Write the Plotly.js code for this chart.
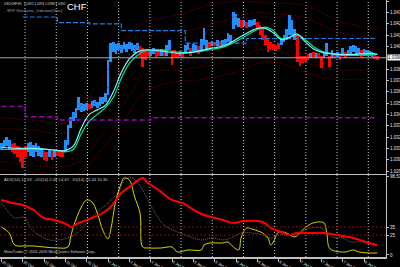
<!DOCTYPE html>
<html><head><meta charset="utf-8">
<script src="https://cdn.plot.ly/plotly-3.0.1.min.js"></script>
<style>html,body{margin:0;padding:0;background:#000;}#chart{width:400px;height:267px;}</style>
</head><body><div id="chart"></div>
<script>
// ---- price bars (USDCHF, H1) ----
const hi = [1.0315,1.0317,1.0320,1.0317,1.0314,1.0315,1.0312,1.0311,1.0309,1.0312,
1.0315,1.0316,1.0313,1.0315,1.0312,1.0310,1.0308,1.0307,1.0309,1.0308,
1.0309,1.0309,1.0308,1.0309,1.0317,1.0331,1.0338,1.0342,1.0346,1.0355,
1.0350,1.0349,1.0350,1.0349,1.0352,1.0353,1.0351,1.0355,1.0355,1.0359,
1.0388,1.0403,1.0404,1.0402,1.0403,1.0401,1.0404,1.0402,1.0404,1.0403,
1.0401,1.0403,1.0400,1.0399,1.0397,1.0398,1.0397,1.0399,1.0397,1.0396,
1.0398,1.0397,1.0401,1.0406,1.0397,1.0397,1.0395,1.0396,1.0394,1.0401,
1.0403,1.0399,1.0402,1.0401,1.0400,1.0407,1.0416,1.0406,1.0404,1.0405,
1.0404,1.0406,1.0405,1.0406,1.0407,1.0412,1.0410,1.0430,1.0429,1.0425,
1.0423,1.0423,1.0422,1.0423,1.0423,1.0424,1.0422,1.0419,1.0416,1.0410,
1.0407,1.0404,1.0402,1.0401,1.0403,1.0407,1.0410,1.0415,1.0428,1.0423,
1.0415,1.0410,1.0392,1.0392,1.0392,1.0393,1.0394,1.0395,1.0394,1.0394,
1.0392,1.0394,1.0403,1.0392,1.0397,1.0394,1.0395,1.0394,1.0399,1.0395,
1.0397,1.0400,1.0401,1.0400,1.0399,1.0397,1.0398,1.0397,1.0396,1.0395,
1.0393,1.0392];
const lo = [1.0309,1.0310,1.0312,1.0309,1.0307,1.0305,1.0302,1.0298,1.0293,1.0302,
1.0307,1.0303,1.0302,1.0307,1.0303,1.0302,1.0300,1.0299,1.0302,1.0300,
1.0302,1.0303,1.0302,1.0302,1.0307,1.0313,1.0328,1.0334,1.0337,1.0344,
1.0342,1.0343,1.0344,1.0345,1.0346,1.0347,1.0346,1.0347,1.0349,1.0351,
1.0357,1.0386,1.0395,1.0393,1.0397,1.0394,1.0398,1.0395,1.0398,1.0396,
1.0394,1.0397,1.0391,1.0382,1.0388,1.0392,1.0392,1.0393,1.0391,1.0392,
1.0392,1.0392,1.0392,1.0397,1.0384,1.0391,1.0390,1.0392,1.0390,1.0394,
1.0397,1.0392,1.0396,1.0395,1.0393,1.0395,1.0401,1.0397,1.0399,1.0400,
1.0400,1.0400,1.0400,1.0400,1.0401,1.0404,1.0403,1.0415,1.0419,1.0417,
1.0416,1.0418,1.0416,1.0417,1.0418,1.0419,1.0415,1.0410,1.0406,1.0401,
1.0395,1.0397,1.0397,1.0396,1.0398,1.0401,1.0404,1.0406,1.0410,1.0410,
1.0406,1.0386,1.0383,1.0385,1.0386,1.0388,1.0390,1.0391,1.0390,1.0390,
1.0381,1.0390,1.0392,1.0382,1.0390,1.0390,1.0391,1.0388,1.0392,1.0390,
1.0392,1.0393,1.0395,1.0392,1.0393,1.0391,1.0392,1.0392,1.0392,1.0391,
1.0389,1.0388];
// u = up-trend bar (blue), d = down-trend bar (red)
const trend = ("uuuu"+"dddddd"+"uuuuuu"+"ddudu"+"ddd"+"uuuuuuuuu"+"d"+"uuuuuuuuuuuuuuuuuu"+"dddd"+"uu"+"dd"+"u"+"d"+"uu"+"ddd"+"u"+"d"+"uu"+"d"+"uu"+"d"+"uuu"+"d"+"u"+"d"+"u"+"d"+"uuuuuuu"+"d"+"u"+"d"+"uuu"+"ddddddddd"+"uuuuuu"+"ddddd"+"ududd"+"uu"+"d"+"u"+"d"+"u"+"d"+"u"+"d"+"uuuuu"+"d"+"uuuu"+"dd").split("");
const lastPrice = 1.0390;
const headerQuote = "USDCHF,H1  1.0392 1.0393 1.0388 1.0390";

// ---- moving averages ----
const maX = [0,6,12,18,24,27,30,33,36,39,42,45,48,51,54,60,66,72,78,84,90,96,99,102,105,108,111,114,117,120,126,132,138,141];
const maFast = [1.0311,1.0310,1.0310,1.0309,1.0308,1.0312,1.0328,1.0340,1.0344,1.0348,1.0360,1.0377,1.0389,1.0395,1.0397,1.0396,1.0394,1.0395,1.0398,1.0401,1.0409,1.0416,1.0416,1.0412,1.0406,1.0408,1.0411,1.0404,1.0398,1.0395,1.0393,1.0393,1.0394,1.0393];
const maSlow = [1.0309,1.0309,1.0309,1.0309,1.0307,1.0309,1.0323,1.0334,1.0340,1.0346,1.0355,1.0372,1.0385,1.0392,1.0396,1.0397,1.0395,1.0395,1.0397,1.0400,1.0407,1.0415,1.0417,1.0414,1.0407,1.0408,1.0410,1.0406,1.0400,1.0396,1.0393,1.0392,1.0393,1.0393];

// ---- envelope bands ----
const bandX = [0,12,24,30,36,42,48,54,60,66,72,78,84,90,96,102,108,114,120,126,132,138,141];
const bandUpOuter = [1.0337,1.0335,1.0333,1.0348,1.0366,1.0388,1.0410,1.0422,1.0425,1.0428,1.0432,1.0437,1.0439,1.0440,1.0439,1.0438,1.0438,1.0436,1.0430,1.0423,1.0419,1.0416,1.0416];
const bandUpInner = [1.0328,1.0326,1.0324,1.0337,1.0353,1.0370,1.0392,1.0407,1.0412,1.0413,1.0415,1.0419,1.0423,1.0428,1.0430,1.0429,1.0428,1.0425,1.0419,1.0413,1.0410,1.0408,1.0408];
const bandLoInner = [1.0298,1.0295,1.0294,1.0300,1.0317,1.0335,1.0357,1.0375,1.0379,1.0379,1.0381,1.0383,1.0386,1.0390,1.0397,1.0397,1.0392,1.0386,1.0381,1.0379,1.0379,1.0379,1.0378];
const bandLoOuter = [1.0291,1.0289,1.0287,1.0289,1.0304,1.0322,1.0342,1.0360,1.0366,1.0369,1.0370,1.0372,1.0375,1.0379,1.0385,1.0386,1.0383,1.0377,1.0373,1.0371,1.0371,1.0371,1.0370];

// ---- MTF step levels ----
const mtfX = [8,21,33,45,69,92,141];
const mtfBlue = [1.0426,1.0421,1.0420,1.0414,1.0403,1.0407,1.0407];
const pivX = [0,9,21,56,141];
const pivPurple = [1.0347,1.0338,1.0335,1.0337,1.0337];

// ---- lower indicator window ----
const redX = [0,4,8,12,16,20,25,26,29,34,38,41,45,49,53,55,59,64,68,71,75,83,87,91,98,101,105,108,111,116,121,128,132,138,141];
const redLine = [68.8,65,62.5,56.3,46.3,43.8,37.5,35,40,46.3,52.5,60,77.5,87.5,96.3,90,81.3,68.8,65,58.8,51.3,43.8,40,42.5,41.3,33.8,28.8,25,27.5,27.5,27.5,23.8,21.3,15,12.5];
const yellowX = [0,3,5,9,12,16,21,25,26,27,30,32,34,36,38,40,41,43,45,46,48,50,52,53,55,60,64,66,70,75,76,78,83,85,87,89,90,92,94,98,100,101,102,104,107,110,113,116,119,121,122,123,125,129,132,134,138,141];
const yellowLine = [35,27.5,12.5,11.3,11.3,10,8.8,10,22.5,35,60,68.8,66.3,52.5,31.3,20,31.3,68.8,90,96.3,93.8,72.5,52.5,10,8.8,8.8,10,3.8,6.3,6.3,12.5,15,15,16.3,10,6.3,22.5,33.8,32.5,27.5,21.3,12.5,16.3,28.8,27.5,22.5,31.3,38.8,41.3,40,28.8,8.8,5,3.8,6.3,3.8,2.5,2.5];
const greyX = [0,3,5,8,9,11,14,18,21,25,29,33,36,40,44,46,49,51,54,57,61,66,71,75,79,83,86,90,94,98,101,104,108,111,116,120,124,128,131,135,139,141];
const greyLine = [65,52.5,46.3,47.5,46.3,33.8,25,18.8,18.8,21.3,28.8,43.8,53.8,65,78.8,93.8,96.3,91.3,75,56.3,37.5,28.8,22.5,18.8,21.3,18.8,21.3,27.5,27.5,25,21.3,25,25,25,33.8,33.8,22.5,21.3,16.3,16.3,12.5,12.5];
const levels = [35, 25];
const indHeader = "ADX(14) 12.53  +DI(14) 2.49 14.67  -DI(14) 12.44 15.30";

const timeLabels = ["30 Dec 2009","30 Dec 17:00","31 Dec 01:00","31 Dec 09:00","31 Dec 17:00","4 Jan 01:00","4 Jan 09:00","4 Jan 17:00","5 Jan 01:00","5 Jan 09:00","5 Jan 17:00","6 Jan 01:00","6 Jan 09:00","6 Jan 17:00","7 Jan 01:00","7 Jan 09:00","7 Jan 17:00","8 Jan 01:00"];

// ---- build ----
const idx = hi.map((_, i) => i);
const FONT = "Liberation Sans, Arial, sans-serif";
const traces = [];
const band = (y) => ({type:'scatter', mode:'lines', x:bandX, y:y, xaxis:'x', yaxis:'y',
  line:{color:'#8b0000', width:1, dash:'1px,2px', shape:'spline'}});
traces.push(band(bandUpOuter), band(bandUpInner), band(bandLoInner), band(bandLoOuter));
traces.push({type:'scatter', mode:'lines', x:pivX, y:pivPurple, xaxis:'x', yaxis:'y',
  line:{color:'#a000b4', width:1.5, dash:'5px,3px', shape:'hv'}});
traces.push({type:'scatter', mode:'lines', x:mtfX, y:mtfBlue, xaxis:'x', yaxis:'y',
  line:{color:'#1e7fe0', width:1.2, dash:'5px,2px', shape:'hv'}});
traces.push({type:'bar', x:idx, base:lo, y:hi.map((h, i) => h - lo[i]), xaxis:'x', yaxis:'y', width:1,
  marker:{color:trend.map(t => t === 'u' ? '#1e8fff' : '#ff0000'), line:{width:0}}});
traces.push({type:'scatter', mode:'lines', x:maX, y:maSlow, xaxis:'x', yaxis:'y',
  line:{color:'#00e08a', width:1.2, shape:'spline'}});
traces.push({type:'scatter', mode:'lines', x:maX, y:maFast, xaxis:'x', yaxis:'y',
  line:{color:'#7ff5ff', width:1.2, shape:'spline'}});
traces.push({type:'scatter', mode:'lines', x:greyX, y:greyLine, xaxis:'x2', yaxis:'y2',
  line:{color:'#707070', width:1, dash:'1px,1px', shape:'spline'}});
traces.push({type:'scatter', mode:'lines', x:yellowX, y:yellowLine, xaxis:'x2', yaxis:'y2',
  line:{color:'#d8d800', width:1, shape:'spline'}});
traces.push({type:'scatter', mode:'lines', x:redX, y:redLine, xaxis:'x2', yaxis:'y2',
  line:{color:'#ff0000', width:2, shape:'spline'}});

// price ticks every 10 pips, the current price gets the white box instead
const priceTicks = [];
for (let p = 10290; p <= 10440; p += 10) if (p !== Math.round(lastPrice * 10000)) priceTicks.push(p / 10000);

const xRange = [-0.5, 144.25];
const GRID0 = 8.9, GRIDSTEP = 11.7;   // vertical chart grid (every ~12 bars)
const shapes = [];
for (let g = GRID0; g < xRange[1]; g += GRIDSTEP) {
  ['y domain', 'y2 domain'].forEach(r => shapes.push({type:'line', layer:'below', xref:'x', x0:g, x1:g,
    yref:r, y0:0, y1:1, line:{color:'#cfcfcf', width:1, dash:'1px,2px'}}));
}
shapes.push({type:'line', xref:'paper', x0:0, x1:1, yref:'y', y0:lastPrice, y1:lastPrice, line:{color:'#a8a8a8', width:1}});
levels.forEach(v => shapes.push({type:'line', xref:'paper', x0:0, x1:1, yref:'y2', y0:v, y1:v,
  line:{color:'#9b0000', width:1, dash:'2px,2px'}}));

const layout = {
  width:400, height:267, paper_bgcolor:'#000', plot_bgcolor:'#000',
  margin:{l:0, r:14, t:0, b:10}, showlegend:false, bargap:0,
  font:{family:FONT, color:'#e0e0e0', size:4.5},
  xaxis:{domain:[0,1], anchor:'y', range:xRange, showgrid:false, ticks:'', showticklabels:false,
    zeroline:false, showline:true, linecolor:'#c0c0c0', linewidth:1.5},
  yaxis:{domain:[0.323,1], anchor:'x', side:'right', range:[1.02874,1.0441], tickmode:'array',
    tickvals:priceTicks, tickformat:'.4f', ticks:'outside', ticklen:2, tickcolor:'#c0c0c0',
    showgrid:false, zeroline:false, showline:true, linecolor:'#c0c0c0', linewidth:1,
    tickfont:{size:4.5, color:'#e8e8e8'}},
  xaxis2:{domain:[0,1], anchor:'y2', matches:'x', range:xRange, tickmode:'array',
    tickvals:timeLabels.map((_, k) => k * 8), ticktext:timeLabels, ticklabelposition:'outside right',
    ticks:'outside', ticklen:3, tickcolor:'#c0c0c0', showgrid:false, zeroline:false,
    showline:true, mirror:true, linecolor:'#c0c0c0', linewidth:1.5,
    tickfont:{size:3.8, color:'#e8e8e8'}},
  yaxis2:{domain:[0,0.319], anchor:'x2', side:'right', range:[-2.5,100], tickmode:'array',
    tickvals:[0,25,35,98.5], ticktext:['0','25','35','98.5123'], ticks:'outside', ticklen:2,
    tickcolor:'#c0c0c0', showgrid:false, zeroline:false, showline:true, linecolor:'#c0c0c0',
    tickfont:{size:4.5, color:'#e8e8e8'}},
  shapes:shapes,
  annotations:[
    {xref:'paper', yref:'paper', x:0.005, y:0.986, xanchor:'left', yanchor:'middle', showarrow:false,
      text:headerQuote, font:{size:3.2, color:'#d8d8d8'}},
    {xref:'paper', yref:'paper', x:0.005, y:0.959, xanchor:'left', yanchor:'middle', showarrow:false,
      text:"<span style='color:#1e7fe0'>\u2013 </span>MTF Stochastic_Indicator(Guru)", font:{size:3.9, color:'#8aa0c8'}},
    {xref:'paper', yref:'paper', x:0.168, y:0.976, xanchor:'left', yanchor:'middle', showarrow:false,
      text:"CHF", font:{size:9.5, color:'#ffffff'}},
    {xref:'paper', yref:'paper', x:0.005, y:0.301, xanchor:'left', yanchor:'middle', showarrow:false,
      text:indHeader, font:{size:4.2, color:'#c8c8c8'}},
    {xref:'paper', yref:'paper', x:0.005, y:0.02, xanchor:'left', yanchor:'middle', showarrow:false,
      text:"MetaTrader, \u00a9 2001-2009 MetaQuotes Software Corp.", font:{size:3.8, color:'#c8c8c8'}},
    {xref:'paper', yref:'y', x:1, y:lastPrice, xanchor:'left', yanchor:'middle', xshift:1, showarrow:false,
      text:lastPrice.toFixed(4), bgcolor:'#ffffff', borderpad:0, font:{size:4.5, color:'#000000'}}
  ]
};
Plotly.newPlot('chart', traces, layout, {staticPlot:true, displayModeBar:false});
</script></body></html>
